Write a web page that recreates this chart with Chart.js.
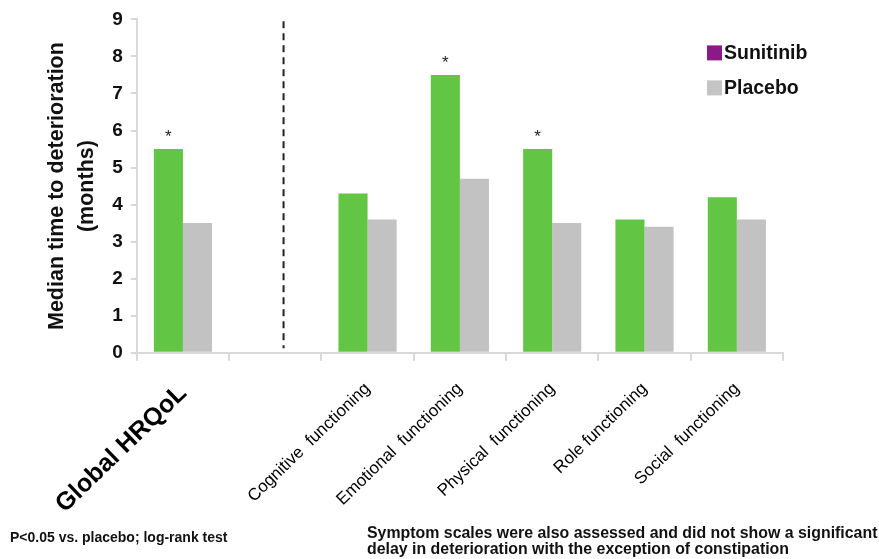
<!DOCTYPE html>
<html>
<head>
<meta charset="utf-8">
<script src="https://cdn.jsdelivr.net/npm/chart.js@4.4.0/dist/chart.umd.min.js"></script>
<style>
  body { margin: 0; background: #fff; }
  #wrap { position: relative; width: 879px; height: 559px; }
  .note {
    position: absolute;
    font-family: 'Liberation Sans Narrow', 'Arial Narrow', 'Liberation Sans', Arial, sans-serif;
    font-weight: bold; color: #111;
    white-space: nowrap;
  }
</style>
</head>
<body>
<div id="wrap">
  <canvas id="qolChart"></canvas>
  <div class="note" style="left:10px; top:529px; font-size:14px; line-height:17px;">P&lt;0.05 vs. placebo; log-rank test</div>
  <div class="note" style="left:367px; top:525px; font-size:15.9px; line-height:16px;">Symptom scales were also assessed and did not show a significant<br>delay in deterioration with the exception of constipation</div>
</div>
<script>
// categories (empty slot separates global score from functioning scales)
const categories = ['Global HRQoL', '', 'Cognitive  functioning', 'Emotional  functioning',
                    'Physical  functioning', 'Role functioning', 'Social  functioning'];
const sunitinib = [5.5, null, 4.3, 7.5, 5.5, 3.6, 4.2];
const placebo   = [3.5, null, 3.6, 4.7, 3.5, 3.4, 3.6];
const significant = [true, false, false, true, true, false, false];   // * P<0.05
const seriesNames = ['Sunitinib', 'Placebo'];
const legendSwatches = ['#8B1A89', '#C4C4C4'];
const yTicks = [0, 1, 2, 3, 4, 5, 6, 7, 8, 9];

const FONT = "'Liberation Sans', Arial, Helvetica, sans-serif";
const GREEN = '#62C544';
const GREY = '#C2C2C2';
const AXIS = '#D9D9D9';

// dashed divider + asterisks + legend in top right
const extrasPlugin = {
  id: 'extras',
  afterDatasetsDraw(chart) {
    const { ctx, scales: { x, y } } = chart;
    const slot = x.getPixelForValue(2) - x.getPixelForValue(1);

    // dashed separator after the global score
    ctx.save();
    ctx.strokeStyle = '#222';
    ctx.lineWidth = 2;
    ctx.setLineDash([7, 5]);
    const dx = x.getPixelForValue(1) + slot * 0.09;
    ctx.beginPath();
    ctx.moveTo(dx, y.getPixelForValue(8.95));
    ctx.lineTo(dx, y.getPixelForValue(0.12));
    ctx.stroke();
    ctx.restore();

    // asterisks above significant bars
    const meta = chart.getDatasetMeta(0);
    ctx.save();
    ctx.fillStyle = '#222';
    ctx.font = '17px ' + FONT;
    ctx.textAlign = 'center';
    ctx.textBaseline = 'bottom';
    significant.forEach((s, i) => {
      if (!s) return;
      const bar = meta.data[i];
      ctx.fillText('*', bar.x, bar.y - 3);
    });
    ctx.restore();

    // legend
    ctx.save();
    ctx.font = 'bold 19.5px ' + FONT;
    ctx.textBaseline = 'middle';
    const lx = chart.chartArea.right - 76;
    seriesNames.forEach((name, i) => {
      const cy = chart.chartArea.top + 33 + i * 35;
      ctx.fillStyle = legendSwatches[i];
      ctx.fillRect(lx, cy - 7, 15, 15);
      ctx.fillStyle = '#111';
      ctx.fillText(name, lx + 17, cy + 1);
    });
    ctx.restore();
  }
};

new Chart(document.getElementById('qolChart'), {
  type: 'bar',
  data: {
    labels: categories,
    datasets: [
      { label: seriesNames[0], data: sunitinib, backgroundColor: GREEN },
      { label: seriesNames[1], data: placebo, backgroundColor: GREY }
    ]
  },
  options: {
    responsive: true,
    maintainAspectRatio: false,
    animation: false,
    layout: { padding: { left: 42, top: 12, right: 96, bottom: 22 } },
    datasets: { bar: { categoryPercentage: 0.63, barPercentage: 1.0 } },
    plugins: {
      legend: { display: false },
      tooltip: { enabled: false }
    },
    scales: {
      x: {
        grid: { display: true, drawOnChartArea: false, drawTicks: true, tickLength: 8, color: AXIS, lineWidth: 2 },
        border: { color: AXIS, width: 2 },
        ticks: {
          color: '#000',
          autoSkip: false,
          minRotation: 44,
          maxRotation: 44,
          padding: 18,
          font: (c) => c.index === 0
            ? { family: FONT, size: 25, weight: 'bold' }
            : { family: FONT, size: 17 }
        }
      },
      y: {
        min: 0,
        max: 9,
        afterBuildTicks: (axis) => { axis.ticks = yTicks.map(v => ({ value: v })); },
        grid: { display: true, drawOnChartArea: false, drawTicks: true, tickLength: 6, color: AXIS, lineWidth: 2 },
        border: { color: AXIS, width: 2 },
        ticks: {
          color: '#111',
          padding: 8,
          font: { family: FONT, size: 19, weight: 'bold' }
        },
        title: {
          display: true,
          text: ['Median time to deterioration', '(months)'],
          color: '#111',
          padding: { top: 0, bottom: 2 },
          font: { family: FONT, size: 21.5, weight: 'bold', lineHeight: 1.4 }
        }
      }
    }
  },
  plugins: [extrasPlugin]
});
</script>
</body>
</html>
